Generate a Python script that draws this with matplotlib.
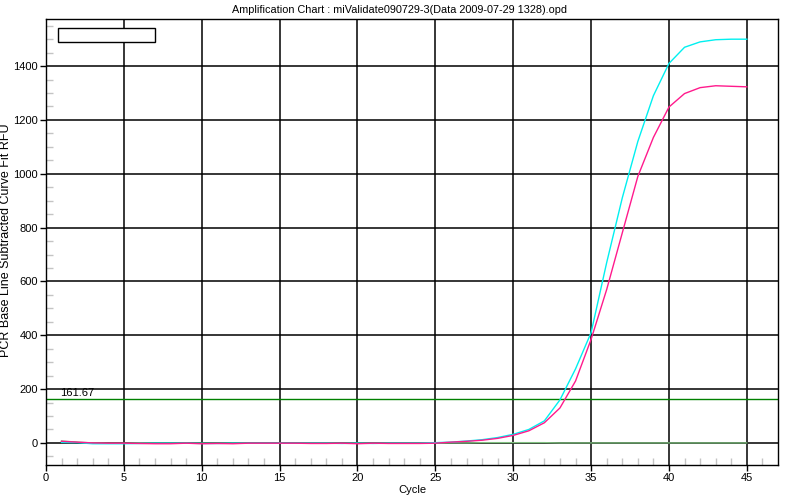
import matplotlib

matplotlib.use("Agg")

import matplotlib.pyplot as plt
from matplotlib.patches import Rectangle
from matplotlib.ticker import MultipleLocator, FixedLocator

cycles = list(range(1, 46))

well_cyan = [2, 1, -3, -3, -3, -2, -1, -1, -1, -2, -2, -1, -1, -1, -1, -1, -1, -1, -2, -1,
             -2, -1, -1, -1, 1, 3, 7, 12, 20, 32, 50, 82, 160, 275, 410, 670, 910, 1120, 1290, 1410,
             1470, 1490, 1498, 1500, 1500]
well_magenta = [6, 3, 0, -1, -1, -2, -3, -3, -1, -3, -2, -3, -1, -1, -1, -1, -2, -2, -1, -3,
                -1, -2, -2, -2, -1, 3, 6, 10, 17, 28, 45, 75, 130, 230, 385, 570, 780, 990, 1135, 1248,
                1298, 1320, 1327, 1325, 1323]
well_black = [5, 1, -1, -1, -1, -1, -1, -1, 0, -1, -1, -1, 0, 0, 0, 0, -1, -1, -1, -1,
              -1, -1, -1, -1, -1, 0, 0, 0, 0, 0, 0, 0, 0, -1, -1, -1, -1, -1, -1, -1,
              -1, -1, -1, -1, -1]
well_green = [7, 3, 0, -1, -1, 0, -1, -1, -1, -1, -1, -1, -1, -1, -1, -1, -1, -1, -1, -1,
              -1, -1, -1, -1, -1, 0, 0, 1, 1, 1, 1, 1, 0, 0, 0, 0, 0, 0, 0, 0,
              0, 0, 0, 0, 0]

threshold = 161.67

plt.rcParams["font.family"] = ["Liberation Sans", "DejaVu Sans"]

fig = plt.figure(figsize=(8, 5), dpi=100)
fig.patch.set_facecolor("white")
ax = fig.add_axes([0.0575, 0.07, 0.915, 0.892])

ax.grid(True, which="major", color="black", linewidth=1.1, zorder=1)

ax.plot(cycles, well_black, color="#101010", linewidth=1.0, zorder=3)
ax.plot(cycles, well_green, color="#80c080", linewidth=1.0, zorder=3)
ax.plot(cycles, well_cyan, color="#00f0f0", linewidth=1.0, zorder=4)
ax.plot(cycles, well_magenta, color="#ff1a8c", linewidth=1.0, zorder=4)

ax.axhline(threshold, color="#008000", linewidth=1.0, zorder=2)
ax.text(0.9, threshold + 12, f"{threshold:.2f}", fontsize=8, color="black", zorder=5)

ax.add_patch(Rectangle((0.0164, 0.948), 0.1325, 0.032, transform=ax.transAxes,
                       facecolor="white", edgecolor="black", linewidth=1.0, zorder=6))

ax.set_xlim(0, 47)
ax.set_ylim(-82, 1575)
ax.xaxis.set_major_locator(MultipleLocator(5))
ax.yaxis.set_major_locator(FixedLocator([0, 200, 400, 600, 800, 1000, 1200, 1400]))
ax.xaxis.set_minor_locator(FixedLocator([c for c in range(1, 47) if c % 5]))
ax.yaxis.set_minor_locator(FixedLocator([v for v in range(-50, 1576, 50) if v % 200]))

ax.tick_params(axis="both", which="major", direction="out", length=4, width=1,
               labelsize=8, colors="black", pad=2)
ax.tick_params(axis="both", which="minor", direction="in", length=5, width=1,
               color="#c4c4c4")

ax.set_xlabel("Cycle", fontsize=8, labelpad=1)
fig.text(0.007, 0.52, "PCR Base Line Subtracted Curve Fit RFU", rotation=90,
         ha="center", va="center", fontsize=9)
fig.text(0.5, 0.99, "Amplification Chart : miValidate090729-3(Data 2009-07-29 1328).opd",
         ha="center", va="top", fontsize=7.8)

for side in ("top", "right", "left", "bottom"):
    ax.spines[side].set_color("black")
    ax.spines[side].set_linewidth(1.0)

fig.savefig("out.png", dpi=100)
plt.close(fig)
